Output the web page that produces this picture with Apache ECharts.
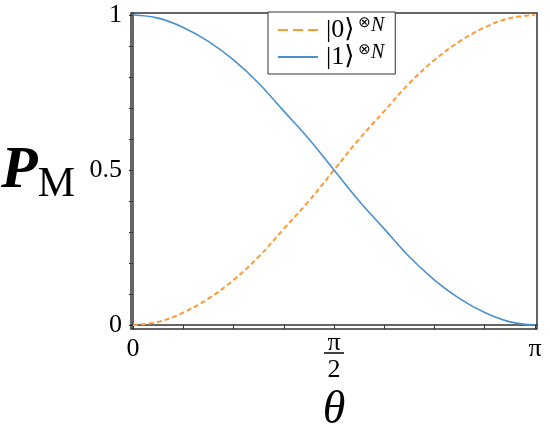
<!DOCTYPE html>
<html>
<head>
<meta charset="utf-8">
<script src="https://cdn.jsdelivr.net/npm/echarts@6/dist/echarts.min.js"></script>
<style>html,body{margin:0;padding:0;background:#fff}#c{width:550px;height:432px}</style>
</head>
<body>
<div id="c"></div>
<script>
// theta in units of pi
var thetaOverPi = [0, 0.0625, 0.125, 0.1875, 0.25, 0.3125, 0.375, 0.4375, 0.5, 0.5625, 0.625, 0.6875, 0.75, 0.8125, 0.875, 0.9375, 1];
var state0 = [0, 0.01, 0.04, 0.085, 0.145, 0.22, 0.31, 0.4, 0.5, 0.6, 0.69, 0.78, 0.855, 0.915, 0.96, 0.99, 1];
var state1 = [1, 0.99, 0.96, 0.915, 0.855, 0.78, 0.69, 0.6, 0.5, 0.4, 0.31, 0.22, 0.145, 0.085, 0.04, 0.01, 0];
var xTickValues = [0, 0.125, 0.25, 0.375, 0.5, 0.625, 0.75, 0.875, 1];
var xLabelValues = [0, 0.5, 1];
var yTickValues = [0, 0.1, 0.2, 0.3, 0.4, 0.5, 0.6, 0.7, 0.8, 0.9, 1];
var yLabelValues = [0, 0.5, 1];
var seriesNames = ['s0', 's1'];

var serif = "'Liberation Serif', 'DejaVu Serif', serif";
function pairs(ys) { return thetaOverPi.map(function (t, i) { return [t, ys[i]]; }); }
var hidden = { color: 'rgba(0,0,0,0)', opacity: 0, borderWidth: 0 };

var chart = echarts.init(document.getElementById('c'), null, { renderer: 'canvas' });
chart.setOption({
  animation: false,
  backgroundColor: '#fff',
  grid: { left: 131, right: 13, top: 13, bottom: 103, outerBoundsMode: 'none', containLabel: false, show: true, borderColor: '#333', borderWidth: 1.5, backgroundColor: 'transparent' },
  legend: {
    orient: 'vertical', left: 268, top: 12,
    itemStyle: hidden,
    data: [
      { name: seriesNames[0], itemStyle: hidden, lineStyle: { type: [10, 5], width: 2 } },
      { name: seriesNames[1], itemStyle: hidden, lineStyle: { width: 2 } }
    ],
    backgroundColor: '#fff', borderColor: '#333', borderWidth: 1,
    padding: [4, 11, 4, 9], itemGap: 0, itemWidth: 40, itemHeight: 14,
    formatter: function (name) {
      return name === 's0' ? '{a|\u007C0\u27E9}{o|\u2297}{n|N}' : '{a|\u007C1\u27E9}{o|\u2297}{n|N}';
    },
    textStyle: {
      padding: [0, 0, 0, 0],
      rich: {
        a: { fontFamily: serif, fontSize: 26, color: '#000', lineHeight: 28, padding: [0, 0, 0, 3] },
        o: { fontFamily: "'DejaVu Sans', sans-serif", fontSize: 15, color: '#000', verticalAlign: 'top', lineHeight: 14, padding: [0, 0, 0, 4] },
        n: { fontFamily: serif, fontStyle: 'italic', fontSize: 20, color: '#000', verticalAlign: 'top', lineHeight: 14 }
      }
    }
  },
  xAxis: {
    type: 'value', min: -0.005, max: 1.005,
    name: '\u03B8', nameLocation: 'middle', nameGap: 53,
    nameTextStyle: { fontFamily: serif, fontStyle: 'italic', fontSize: 46, color: '#000' },
    axisLine: { show: true, lineStyle: { color: '#333', width: 1.5 } },
    axisTick: { show: true, customValues: xTickValues, length: 4, inside: false, lineStyle: { color: '#333', width: 1 } },
    splitLine: { show: false },
    axisLabel: {
      customValues: xLabelValues, margin: 8, color: '#000', fontFamily: serif, fontSize: 26,
      formatter: function (v) {
        if (v === 0) return '{t|0}';
        if (v === 0.5) return '{f|\u03C0}\n{l| }\n{d|2}';
        return '{t|\u03C0}';
      },
      rich: {
        t: { fontFamily: serif, fontSize: 26, color: '#000', lineHeight: 24 },
        f: { fontFamily: serif, fontSize: 26, color: '#000', lineHeight: 12, align: 'center' },
        l: { backgroundColor: '#000', width: 20, height: 1.5, lineHeight: 8, fontSize: 1, align: 'center' },
        d: { fontFamily: serif, fontSize: 26, color: '#000', lineHeight: 26, align: 'center' }
      }
    }
  },
  yAxis: {
    type: 'value', min: -0.013, max: 1.0065,
    name: '{p|P}{m|M}', nameLocation: 'middle', nameRotate: 0, nameGap: 56,
    nameTextStyle: {
      rich: {
        p: { fontFamily: serif, fontStyle: 'italic', fontWeight: 'bold', fontSize: 60, color: '#000', lineHeight: 70 },
        m: { fontFamily: serif, fontSize: 42, color: '#000', lineHeight: 40, verticalAlign: 'bottom' }
      }
    },
    axisLine: { show: true, lineStyle: { color: '#333', width: 1.5 } },
    axisTick: { show: true, customValues: yTickValues, length: 4, lineStyle: { color: '#333', width: 1 } },
    splitLine: { show: false },
    axisLabel: {
      customValues: yLabelValues, margin: 9, color: '#000', fontFamily: serif, fontSize: 26,
      formatter: function (v) { return v === 0.5 ? '0.5' : String(Math.round(v)); }
    }
  },
  series: [
    {
      name: 's0', type: 'line', data: pairs(state0), smooth: 0.4, symbol: 'none',
      lineStyle: { color: '#ff9933', width: 2, type: [5, 3] }, itemStyle: { color: '#ff9933' }
    },
    {
      name: 's1', type: 'line', data: pairs(state1), smooth: 0.4, symbol: 'none',
      lineStyle: { color: '#4a90cc', width: 1.6 }, itemStyle: { color: '#4a90cc' }
    }
  ]
});
</script>
</body>
</html>
